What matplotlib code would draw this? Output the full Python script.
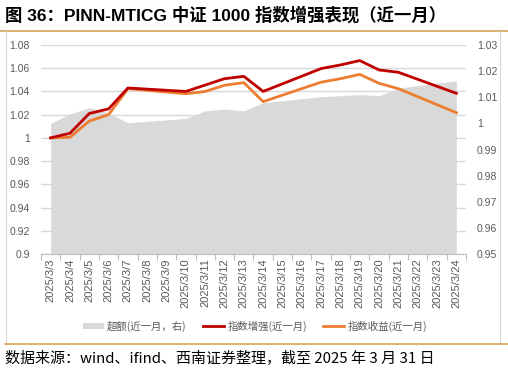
import numpy as np
import matplotlib
matplotlib.use("Agg")
import matplotlib.pyplot as plt
from matplotlib.lines import Line2D
from matplotlib.patches import Patch

plt.rcParams['font.family'] = ['Liberation Sans', 'Noto Sans CJK SC', 'DejaVu Sans']

dates = ["2025/3/3", "2025/3/4", "2025/3/5", "2025/3/6", "2025/3/7", "2025/3/8",
         "2025/3/9", "2025/3/10", "2025/3/11", "2025/3/12", "2025/3/13", "2025/3/14",
         "2025/3/15", "2025/3/16", "2025/3/17", "2025/3/18", "2025/3/19", "2025/3/20",
         "2025/3/21", "2025/3/22", "2025/3/23", "2025/3/24"]
nan = np.nan
enhanced = [1.000, 1.004, 1.021, 1.025, 1.043, nan, nan, 1.040, 1.0455, 1.051, 1.053, 1.040,
            nan, nan, 1.0597, 1.0628, 1.0666, 1.0585, 1.0565, nan, nan, 1.0384]
index_ret = [1.000, 1.0005, 1.0145, 1.020, 1.0424, nan, nan, 1.038, 1.040, 1.0453, 1.0476, 1.0312,
             nan, nan, 1.048, 1.051, 1.0547, 1.047, 1.0424, nan, nan, 1.0217]
excess = [1.000, 1.0036, 1.006, 1.004, 1.0002, nan, nan, 1.0019, 1.0048, 1.0055, 1.0048, 1.0079,
          nan, nan, 1.0102, 1.0106, 1.011, 1.0106, 1.0135, nan, nan, 1.0163]

left_ticks = [0.9, 0.92, 0.94, 0.96, 0.98, 1.0, 1.02, 1.04, 1.06, 1.08]
left_labels = ["0.9", "0.92", "0.94", "0.96", "0.98", "1", "1.02", "1.04", "1.06", "1.08"]
right_ticks = [0.95, 0.96, 0.97, 0.98, 0.99, 1.0, 1.01, 1.02, 1.03]
right_labels = ["0.95", "0.96", "0.97", "0.98", "0.99", "1", "1.01", "1.02", "1.03"]

title = "图 36：PINN-MTICG 中证 1000 指数增强表现（近一月）"
source = "数据来源：wind、ifind、西南证券整理，截至 2025 年 3 月 31 日"
legend_labels = ["超额(近一月，右)", "指数增强(近一月)", "指数收益(近一月)"]

RED = "#C00000"
ORANGE = "#ED7D31"
GRAY = "#D9D9D9"
TXT = "#595959"

fig = plt.figure(figsize=(5.08, 3.76), dpi=100)
ax = fig.add_axes([41/508, 1-254/376, (466-41)/508, (254-45)/376])
ax2 = ax.twinx()

x = np.arange(len(dates))
def valid(arr):
    a = np.array(arr, dtype=float)
    m = ~np.isnan(a)
    return x[m], a[m]

xe, ye = valid(excess)
ax2.fill_between(xe, 0.95, ye, color=GRAY, lw=0, zorder=1)
ax2.set_ylim(0.95, 1.03)
ax2.set_yticks(right_ticks)
ax2.set_yticklabels(right_labels)

ax.set_zorder(ax2.get_zorder() + 1)
ax.patch.set_visible(False)

xr, yr = valid(enhanced)
xo, yo = valid(index_ret)
ax.plot(xo, yo, color=ORANGE, lw=2.0, zorder=3, solid_joinstyle='round')
ax.plot(xr, yr, color=RED, lw=2.0, zorder=4, solid_joinstyle='round')
ax.set_ylim(0.9, 1.08)
ax.set_yticks(left_ticks)
ax.set_yticklabels(left_labels)
ax.set_xlim(-0.5, len(dates) - 0.5)
ax.set_xticks(x)
ax.set_xticklabels(dates, rotation=90, fontsize=8, color=TXT)
ax.set_xticks(np.arange(-0.5, len(dates)), minor=True)
ax.tick_params(axis='x', which='major', length=0, pad=3)
ax.tick_params(axis='x', which='minor', length=4, color="#BFBFBF", width=0.8)
ax.tick_params(axis='y', length=0, labelsize=7.5, labelcolor=TXT, pad=8)
ax2.tick_params(axis='y', length=0, labelsize=7.5, labelcolor=TXT, pad=8)
ax.grid(axis='y', color=GRAY, lw=1.0)
ax.set_axisbelow(True)
for a in (ax, ax2):
    for s in ("top", "right", "left", "bottom"):
        a.spines[s].set_visible(False)
ax.spines["bottom"].set_visible(True)
ax.spines["bottom"].set_color("#BFBFBF")
ax.spines["bottom"].set_linewidth(0.8)

# Title
fig.text(5/508, 1-15/376, title, fontsize=12.5, fontweight='bold', va='center', ha='left',
         family=['Liberation Sans', 'Noto Sans CJK SC', 'DejaVu Sans'])
# Frame
fig.add_artist(Line2D([0, 1], [1-31/376, 1-31/376], color="#D4A45A", lw=1.2, transform=fig.transFigure))
fig.add_artist(Line2D([6/508, 6/508], [1-31/376, 1-344/376], color="#D9D9D9", lw=0.8, transform=fig.transFigure))
fig.add_artist(Line2D([500/508, 500/508], [1-31/376, 1-344/376], color="#D9D9D9", lw=0.8, transform=fig.transFigure))
fig.add_artist(Line2D([5/508, 1], [1-344/376, 1-344/376], color="#D4A45A", lw=1.2, transform=fig.transFigure))

# Legend
handles = [Patch(facecolor=GRAY, edgecolor='none'),
           Line2D([], [], color=RED, lw=2.0),
           Line2D([], [], color=ORANGE, lw=2.0)]
leg = fig.legend(handles, legend_labels, loc='center', bbox_to_anchor=(255/508, 1-326/376),
                 ncol=3, frameon=False, handlelength=2.0, handleheight=0.5,
                 columnspacing=1.6, handletextpad=0.3,
                 prop={'family': ['Noto Sans CJK SC', 'DejaVu Sans'], 'size': 7.5})
for t in leg.get_texts():
    t.set_color(TXT)

# Source
fig.text(5/508, 1-358/376, source, fontsize=10.8, style='italic', va='center', ha='left',
         family=['Noto Sans CJK SC', 'DejaVu Sans'])

fig.savefig("out.png", dpi=100)
